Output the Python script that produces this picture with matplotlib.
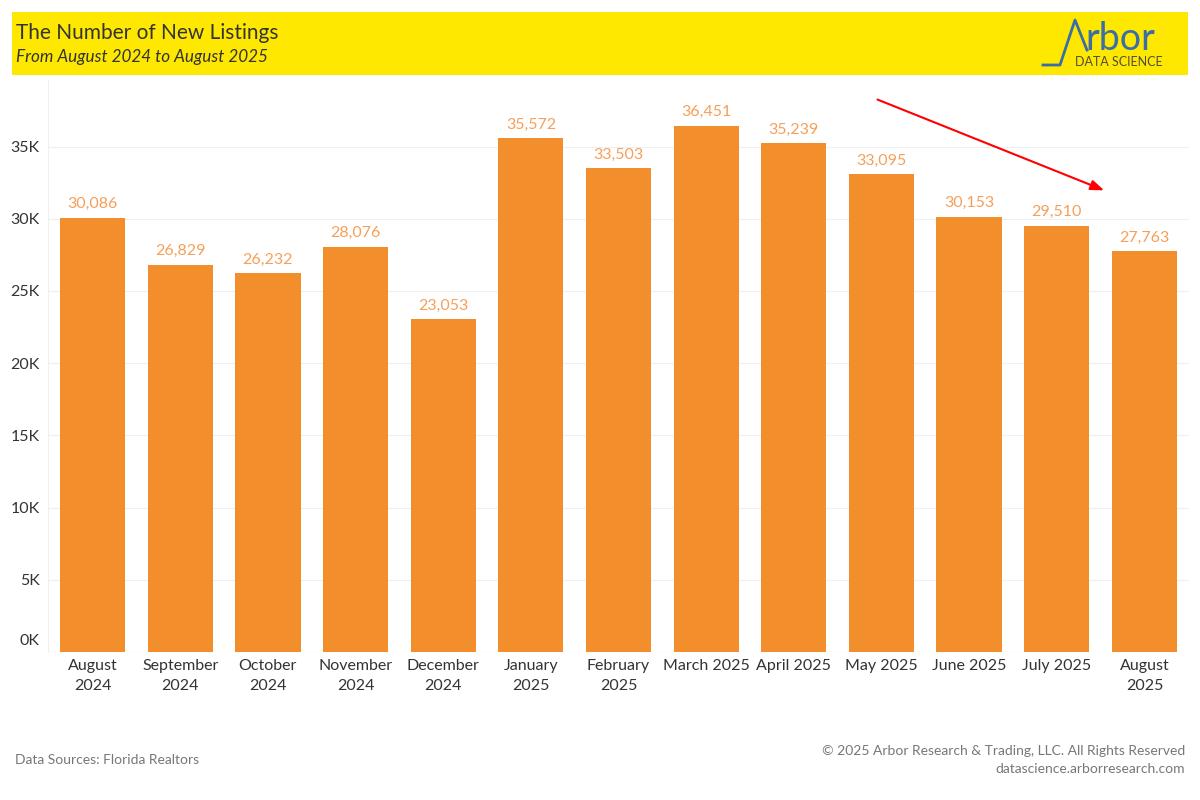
import matplotlib
matplotlib.use("Agg")
import matplotlib.pyplot as plt
from matplotlib.patches import Rectangle
from matplotlib.ticker import FuncFormatter, MultipleLocator

plt.rcParams['font.family'] = ['Lato', 'DejaVu Sans']

categories = ["August\n2024", "September\n2024", "October\n2024", "November\n2024",
              "December\n2024", "January\n2025", "February\n2025", "March 2025",
              "April 2025", "May 2025", "June 2025", "July 2025", "August\n2025"]
values = [30086, 26829, 26232, 28076, 23053, 35572, 33503, 36451, 35239, 33095,
          30153, 29510, 27763]
title = "The Number of New Listings"
subtitle = "From August 2024 to August 2025"

W, H = 1200, 800
fig = plt.figure(figsize=(12, 8), dpi=100)

def fx(px):
    return px / W

def fy(py):
    return 1 - py / H

# Banner
fig.patches.append(Rectangle((fx(12), fy(75)), fx(1188) - fx(12), fy(12) - fy(75),
                             transform=fig.transFigure, facecolor="#FFE800",
                             edgecolor="none", zorder=0))
fig.text(fx(16), fy(33), title, fontsize=15, color="#333333", va="center", ha="left")
fig.text(fx(16), fy(57), subtitle, fontsize=12.3, color="#333333", va="center", ha="left",
         style="italic")

# Logo
blue = "#3A6EA5"
lx = [1043, 1060, 1075, 1087]
ly = [65, 65, 20, 50]
fig.lines.append(plt.Line2D([fx(x) for x in lx], [fy(y) for y in ly],
                            transform=fig.transFigure, color=blue, lw=2))
fig.text(fx(1085), fy(50), "rbor", fontsize=27, color=blue, ha="left", va="baseline")
fig.text(fx(1163), fy(62), "DATA SCIENCE", fontsize=9, color="#4D4D3A", ha="right",
         va="center")

# Axes
left_px, right_px, top_px, bot_px = 48, 1189, 80, 652
ax = fig.add_axes([fx(left_px), fy(bot_px), fx(right_px) - fx(left_px), fy(top_px) - fy(bot_px)])
ymax = (bot_px - top_px) / 72.2 * 5000
ax.set_ylim(0, ymax)
ax.set_xlim(-0.508, len(values) - 1 + 0.508)

x = list(range(len(values)))
ax.bar(x, values, width=0.745, color="#F28E2B", zorder=2)
for xi, v in zip(x, values):
    ax.text(xi, v + 450, f"{v:,}", ha="center", va="bottom", fontsize=11.5, color="#F5A05A")

ax.yaxis.set_major_locator(MultipleLocator(5000))
ax.yaxis.set_major_formatter(FuncFormatter(lambda v, p: "" if v == 0 else f"{int(v/1000)}K"))
ax.annotate("0K", xy=(0, 0), xycoords=("axes fraction", "data"), xytext=(-6, 8),
            textcoords="offset points", ha="right", va="center", fontsize=11.5,
            color="#333333", annotation_clip=False)
ax.grid(axis="y", color="#EFEFEF", lw=0.8, zorder=0)
ax.set_axisbelow(True)
for s in ["top", "right", "bottom"]:
    ax.spines[s].set_visible(False)
ax.spines["left"].set_color("#EFEFEF")
ax.axhline(0, color="#EFEFEF", lw=1, zorder=1)
ax.tick_params(axis="y", length=0, labelsize=11.5, labelcolor="#333333", pad=6)
ax.set_xticks(x)
ax.set_xticklabels(categories, fontsize=11.5, color="#333333", linespacing=1.55)
ax.tick_params(axis="x", length=0, pad=5)

# Arrow (trend)
ax.annotate("", xy=(11.57, 31900), xytext=(8.925, 38330),
            arrowprops=dict(arrowstyle="-|>,head_length=0.8,head_width=0.3",
                            color="#FF0000", lw=1.5), annotation_clip=False)

# Footer
fig.text(fx(15), fy(760), "Data Sources: Florida Realtors", fontsize=10, color="#777777",
         ha="left", va="center")
fig.text(fx(1185), fy(751), "© 2025 Arbor Research & Trading, LLC. All Rights Reserved",
         fontsize=10, color="#777777", ha="right", va="center")
fig.text(fx(1185), fy(769), "datascience.arborresearch.com", fontsize=10, color="#777777",
         ha="right", va="center")

fig.savefig("out.png", dpi=100, facecolor="white")
